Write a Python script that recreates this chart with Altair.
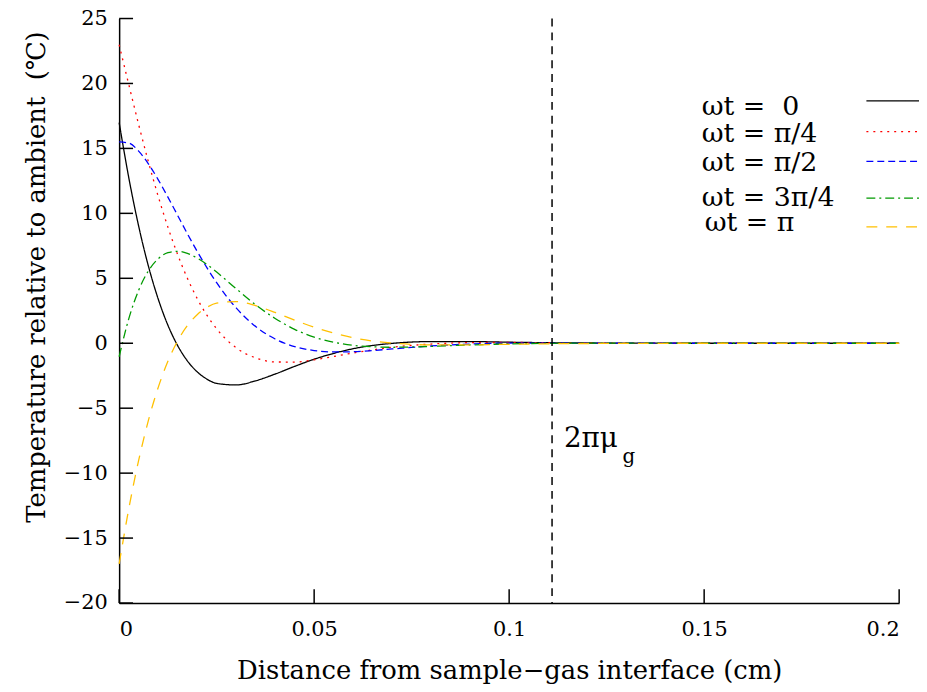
import altair as alt
import pandas as pd

# distance from interface (cm)
x_cm = [0, 0.0025, 0.005, 0.0075, 0.01, 0.0125, 0.015, 0.0175, 0.02, 0.0225, 0.025,
        0.03, 0.035, 0.04, 0.045, 0.05, 0.055, 0.06, 0.065, 0.07, 0.08, 0.09, 0.1,
        0.12, 0.15, 0.2]

t_0 = [16.99, 12.70, 9.02, 5.94, 3.42, 1.39, -0.18, -1.36, -2.20, -2.76, -3.09,
       -3.21, -2.89, -2.37, -1.78, -1.23, -0.78, -0.42, -0.17, -0.01, 0.13, 0.13, 0.08,
       0.02, 0.0, 0.0]
t_pi4 = [22.98, 19.88, 16.84, 13.97, 11.33, 8.94, 6.83, 5.00, 3.45, 2.16, 1.11,
         -0.35, -1.13, -1.44, -1.45, -1.27, -1.02, -0.75, -0.51, -0.31, -0.06, 0.05, 0.06,
         0.02, 0.0, 0.0]
t_pi2 = [15.50, 15.41, 14.79, 13.81, 12.60, 11.25, 9.84, 8.43, 7.08, 5.82, 4.66,
         2.72, 1.29, 0.33, -0.26, -0.56, -0.67, -0.65, -0.56, -0.44, -0.21, -0.06, 0.01,
         0.01, 0.0, 0.0]
t_3pi4 = [-1.04, 1.92, 4.08, 5.57, 6.50, 6.97, 7.08, 6.92, 6.56, 6.07, 5.48,
          4.20, 2.96, 1.91, 1.07, 0.47, 0.08, -0.16, -0.27, -0.31, -0.24, -0.13, -0.05,
          0.01, 0.0, 0.0]
t_pi = [-16.99, -12.70, -9.02, -5.94, -3.42, -1.39, 0.18, 1.36, 2.20, 2.76, 3.09,
        3.21, 2.89, 2.37, 1.78, 1.23, 0.78, 0.42, 0.17, 0.01, -0.13, -0.13, -0.08,
        -0.02, 0.0, 0.0]

series_labels = ["ωt = \u00a00", "ωt = π/4", "ωt = π/2", "ωt = 3π/4", "ωt = π"]
series_values = [t_0, t_pi4, t_pi2, t_3pi4, t_pi]
colors = ["#000000", "#ff0000", "#0000ff", "#009a00", "#ffc000"]
dashes = [[1, 0], [2, 5], [7, 4], [9, 4, 2, 4], [11, 9]]

x_ticks = [0, 0.05, 0.1, 0.15, 0.2]
y_ticks = [-20, -15, -10, -5, 0, 5, 10, 15, 20, 25]
marker_x = [0.111]
marker_y = [-7.35]

W, H = 786, 589
FONT = "DejaVu Serif"

rows = []
for lab, vals in zip(series_labels, series_values):
    for xv, tv in zip(x_cm, vals):
        rows.append({"x": xv, "T": tv, "series": lab})
df = pd.DataFrame(rows)

xscale = alt.Scale(domain=[0, 0.2], nice=False, zero=False)
yscale = alt.Scale(domain=[-20, 25], nice=False, zero=False)
xaxis = alt.Axis(values=x_ticks, format="~g", tickSize=0, labelPadding=16,
                 title="Distance from sample\u2212gas interface (cm)", titlePadding=18)
yaxis = alt.Axis(values=y_ticks, tickSize=0, labelPadding=12,
                 title="Temperature relative to ambient \u00a0(\u2103)", titlePadding=14,
                 titleY=260)


def X(field="x"):
    return alt.X(f"{field}:Q", scale=xscale, axis=xaxis)


def Y(field="T"):
    return alt.Y(f"{field}:Q", scale=yscale, axis=yaxis)


lines = alt.Chart(df).mark_line(strokeWidth=1.3, interpolate="monotone").encode(
    x=X(), y=Y(),
    color=alt.Color("series:N", scale=alt.Scale(domain=series_labels, range=colors), legend=None),
    strokeDash=alt.StrokeDash("series:N", scale=alt.Scale(domain=series_labels, range=dashes), legend=None),
)

ytick_layer = alt.Chart(pd.DataFrame({"T": y_ticks})).mark_rule(color="black", strokeWidth=1.5).encode(
    y=Y(), x=alt.value(0), x2=alt.value(14))
xtick_layer = alt.Chart(pd.DataFrame({"x": x_ticks})).mark_rule(color="black", strokeWidth=1.5).encode(
    x=X(), y=alt.value(H), y2=alt.value(H - 14))

vline = alt.Chart(pd.DataFrame({"x": marker_x})).mark_rule(
    color="black", strokeWidth=1.5, strokeDash=[8, 6]).encode(x=X())

ann_df = pd.DataFrame({"x": marker_x, "T": marker_y, "t": ["2πμ"], "s": ["g"]})
ann = alt.Chart(ann_df).mark_text(font=FONT, fontSize=28, align="left", baseline="middle",
                                  dx=12, color="black").encode(x=X(), y=Y(), text="t:N")
ann_sub = alt.Chart(ann_df).mark_text(font=FONT, fontSize=20, align="left", baseline="middle",
                                      dx=71, dy=18, color="black").encode(x=X(), y=Y(), text="s:N")

legend_layers = []
leg_line_y = [83, 114, 144, 181, 210]
leg_text_y = [89, 116, 146, 181, 206]
for i, lab in enumerate(series_labels):
    one = pd.DataFrame({"label": [lab]})
    legend_layers.append(
        alt.Chart(one).mark_rule(color=colors[i], strokeWidth=1.3, strokeDash=dashes[i]).encode(
            x=alt.value(753), x2=alt.value(812), y=alt.value(leg_line_y[i])))
    legend_layers.append(
        alt.Chart(one).mark_text(font=FONT, fontSize=27, align="left", baseline="middle",
                                 color="black").encode(
            x=alt.value(587 if i < 4 else 590), y=alt.value(leg_text_y[i]), text="label:N"))

chart = alt.layer(lines, vline, ytick_layer, xtick_layer, ann, ann_sub, *legend_layers).properties(
    width=W, height=H,
    autosize=alt.AutoSizeParams(type="none"),
    padding={"left": 112, "top": 8, "right": 20, "bottom": 80},
).configure_view(stroke=None).configure_axis(
    grid=False, domainColor="black", domainWidth=1.5,
    labelFont=FONT, labelFontSize=21, labelColor="black",
    titleFont=FONT, titleFontSize=26, titleFontWeight="normal", titleColor="black",
)

chart.save("out.html", embed_options={"renderer": "svg", "actions": False})
